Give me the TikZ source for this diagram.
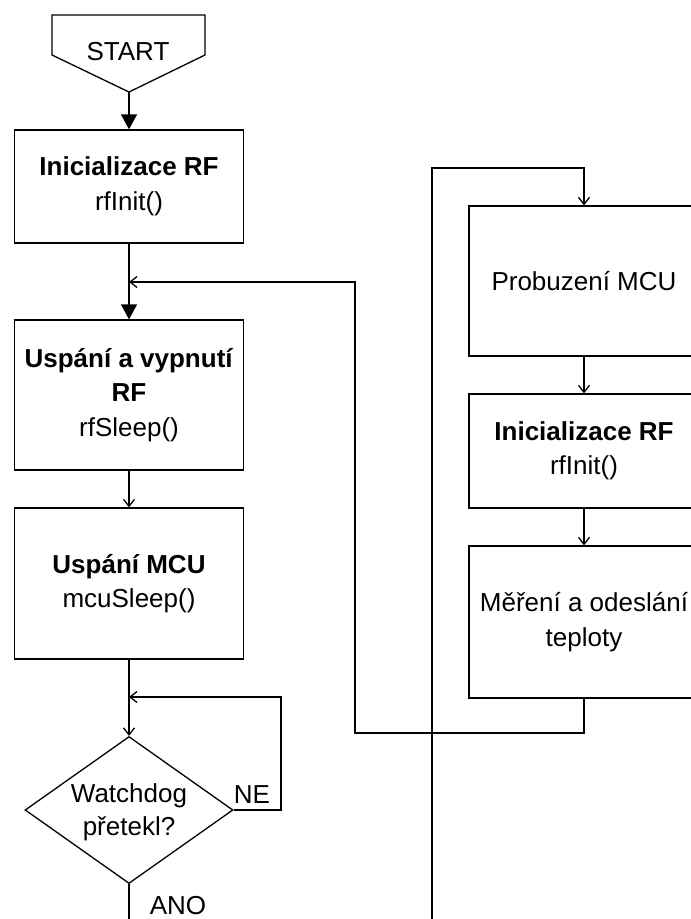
\documentclass[tikz,border=0pt]{standalone}
\usepackage{fontspec}
\setmainfont{Liberation Sans}
\usetikzlibrary{arrows.meta,shapes.geometric}
\begin{document}
\begin{tikzpicture}[x=1pt,y=-1pt,
  line/.style={line width=1.3pt, black},
  box/.style={draw, line, rectangle, minimum width=229pt, inner sep=0pt, align=center, font=\fontsize{26}{34.5}\selectfont},
  big/.style={line, -{Triangle[width=16pt,length=15pt]}},
  small/.style={line, -{Straight Barb[width=11pt,length=7pt,line width=1.3pt]}},
  lbl/.style={font=\fontsize{26}{33}\selectfont, inner sep=0pt, align=center}
]
\clip (0,0) rectangle (691,919);
\fill[white] (0,0) rectangle (691,919);

% START off-page connector
\coordinate (s1) at (52,15);
\coordinate (s2) at (205,15);
\coordinate (s3) at (205,55);
\coordinate (startpt) at (129,92);
\coordinate (s5) at (52,55);
\draw[line] (s1) -- (s2) -- (s3) -- (startpt) -- (s5) -- cycle;
\node[lbl] (start) at (128,52) {START};

% left column
\node[box, minimum height=113pt] (init) at (129,186.5) {\textbf{Inicializace RF}\\rfInit()};
\node[box, minimum height=150pt] (rfsleep) at (129,395) {\textbf{Uspání a vypnutí}\\\textbf{RF}\\rfSleep()};
\node[box, minimum height=151pt] (mcusleep) at (129,583.5) {\textbf{Uspání MCU}\\mcuSleep()};
\node[diamond, draw, line, minimum width=208pt, minimum height=147pt, inner sep=0pt] (dec) at (129,810) {};
\node[lbl] (dectext) at (129,812) {Watchdog\\přetekl?};
\node[lbl] (ne) at (252,795) {NE};
\node[lbl, anchor=base, text depth=0pt] (ano) at (178,914) {ANO};

% right column
\node[box, minimum width=230pt, minimum height=150pt] (wake) at (584,281) {Probuzení MCU};
\node[box, minimum width=230pt, minimum height=114pt] (rfinit2) at (584,451) {\textbf{Inicializace RF}\\rfInit()};
\node[box, minimum width=230pt, minimum height=152pt] (meas) at (584,622) {Měření a odeslání\\teploty};

% junctions and free ends
\coordinate (j1) at (129,282);
\coordinate (j2) at (129,697);
\coordinate (bot1) at (129,919);
\coordinate (bot2) at (432,919);
\coordinate (top2) at (432,168);
\coordinate (c1) at (355,733);
\coordinate (c2) at (355,282);
\coordinate (ne1) at (281,810);

% connectors
\draw[big] (startpt) -- (init.north);
\draw[big] (init.south) -- (rfsleep.north);
\draw[small] (rfsleep.south) -- (mcusleep.north);
\draw[small] (mcusleep.south) -- (dec.north);
\draw[small] (dec.east) -- (ne1) |- (j2);
\draw[line] (dec.south) -- (bot1);
\draw[small] (bot2) -- (top2) -| (wake.north);
\draw[small] (wake.south) -- (rfinit2.north);
\draw[small] (rfinit2.south) -- (meas.north);
\draw[small] (meas.south) |- (c1) -- (c2) -- (j1);
\end{tikzpicture}
\end{document}
